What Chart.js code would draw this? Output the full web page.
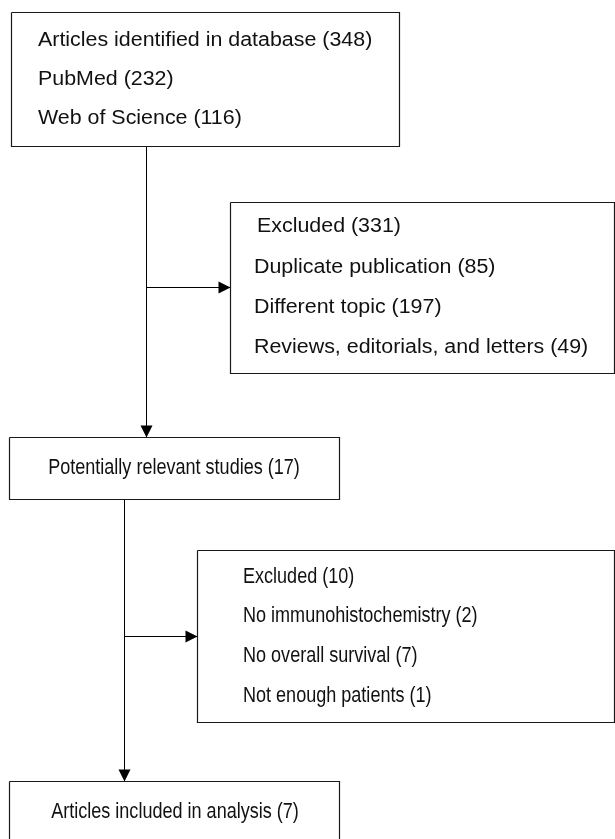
<!DOCTYPE html>
<html>
<head>
<meta charset="utf-8">
<script src="https://cdn.jsdelivr.net/npm/chart.js@4"></script>
<style>
  html,body{ margin:0; padding:0; background:#fff; }
  #wrap{ width:615px; height:839px; position:relative; }
</style>
</head>
<body>
<div id="wrap"><canvas id="flow"></canvas></div>
<script>
// flow content
const stages = ["Articles identified in database", "Potentially relevant studies", "Articles included in analysis"];
const stageCounts = [348, 17, 7];
const sources = ["PubMed", "Web of Science"];
const sourceCounts = [232, 116];
const excl1Labels = ["Duplicate publication", "Different topic", "Reviews, editorials, and letters"];
const excl1Counts = [85, 197, 49];
const excl2Labels = ["No immunohistochemistry", "No overall survival", "Not enough patients"];
const excl2Counts = [2, 7, 1];

const sum = a => a.reduce((s,v)=>s+v,0);

// layout in chart units (x: 0..615, y: 0..839 top-down); ly = text baselines
const BOXES = [
  { x0:11.5, y0:12.5, x1:399.5, y1:146.5, align:"left", tx:38, size:20, sx:1.07,
    lines:[stages[0]+" ("+stageCounts[0]+")", ...sources.map((s,i)=>s+" ("+sourceCounts[i]+")")],
    ly:[46,85,124] },
  { x0:230.5, y0:202.5, x1:614.5, y1:373.5, align:"left", tx:254, size:20, sx:1.07, firstDx:3,
    lines:["Excluded ("+sum(excl1Counts)+")", ...excl1Labels.map((s,i)=>s+" ("+excl1Counts[i]+")")],
    ly:[232,273,313,353] },
  { x0:9.5, y0:437.5, x1:339.5, y1:499.5, align:"center", tx:174, size:22, sx:0.82,
    lines:[stages[1]+" ("+stageCounts[1]+")"], ly:[474] },
  { x0:197.5, y0:550.5, x1:614.5, y1:722.5, align:"left", tx:243, size:22, sx:0.82,
    lines:["Excluded ("+sum(excl2Counts)+")", ...excl2Labels.map((s,i)=>s+" ("+excl2Counts[i]+")")],
    ly:[583,622,662,702] },
  { x0:9.5, y0:781.5, x1:339.5, y1:860, align:"center", tx:175, size:22, sx:0.82,
    lines:[stages[2]+" ("+stageCounts[2]+")"], ly:[818] }
];
const ARROWS = [
  { from:[146.5,146.5], to:[146.5,437.5], dir:"down" },
  { from:[146.5,287.5], to:[230.5,287.5], dir:"right" },
  { from:[124.5,499.5], to:[124.5,781.5], dir:"down" },
  { from:[124.5,636.5], to:[197.5,636.5], dir:"right" }
];

const INK = "#000000";

const boxSets = BOXES.map(b => ({
  type:"line",
  data:[{x:b.x0,y:b.y0},{x:b.x1,y:b.y0},{x:b.x1,y:b.y1},{x:b.x0,y:b.y1},{x:b.x0,y:b.y0}],
  borderColor:"#1a1a1a", borderWidth:1.2, pointRadius:0, tension:0, fill:false
}));
const arrowSets = ARROWS.map(a => ({
  type:"line",
  data:[{x:a.from[0],y:a.from[1]},{x:a.to[0],y:a.to[1]}],
  borderColor:INK, borderWidth:1, pointRadius:0, tension:0, fill:false
}));

const flowText = {
  id:"flowText",
  afterDatasetsDraw(chart){
    const ctx = chart.ctx, xs = chart.scales.x, ys = chart.scales.y;
    ctx.save();
    // arrowheads
    ctx.fillStyle = INK;
    ARROWS.forEach(a=>{
      const tx = xs.getPixelForValue(a.to[0]), ty = ys.getPixelForValue(a.to[1]);
      ctx.beginPath();
      if(a.dir==="down"){
        ctx.moveTo(tx, ty); ctx.lineTo(tx-6, ty-12); ctx.lineTo(tx+6, ty-12);
      } else {
        ctx.moveTo(tx, ty); ctx.lineTo(tx-12, ty-6); ctx.lineTo(tx-12, ty+6);
      }
      ctx.closePath(); ctx.fill();
    });
    // labels
    ctx.textBaseline = "alphabetic";
    ctx.fillStyle = "#111";
    BOXES.forEach(b=>{
      ctx.font = b.size+"px 'Liberation Sans', Arial, sans-serif";
      ctx.textAlign = b.align;
      b.lines.forEach((t,i)=>{
        const dx = (i===0 && b.firstDx) ? b.firstDx : 0;
        ctx.save();
        ctx.translate(xs.getPixelForValue(b.tx+dx), ys.getPixelForValue(b.ly[i]));
        ctx.scale(b.sx, 1);
        ctx.fillText(t, 0, 0);
        ctx.restore();
      });
    });
    ctx.restore();
  }
};

new Chart(document.getElementById("flow"), {
  type:"scatter",
  data:{ datasets:[...boxSets, ...arrowSets] },
  options:{
    responsive:true, maintainAspectRatio:false, animation:false,
    layout:{ padding:0 },
    scales:{
      x:{ type:"linear", min:0, max:615, display:false },
      y:{ type:"linear", min:0, max:839, reverse:true, display:false }
    },
    plugins:{ legend:{ display:false }, tooltip:{ enabled:false } }
  },
  plugins:[flowText]
});
</script>
</body>
</html>
